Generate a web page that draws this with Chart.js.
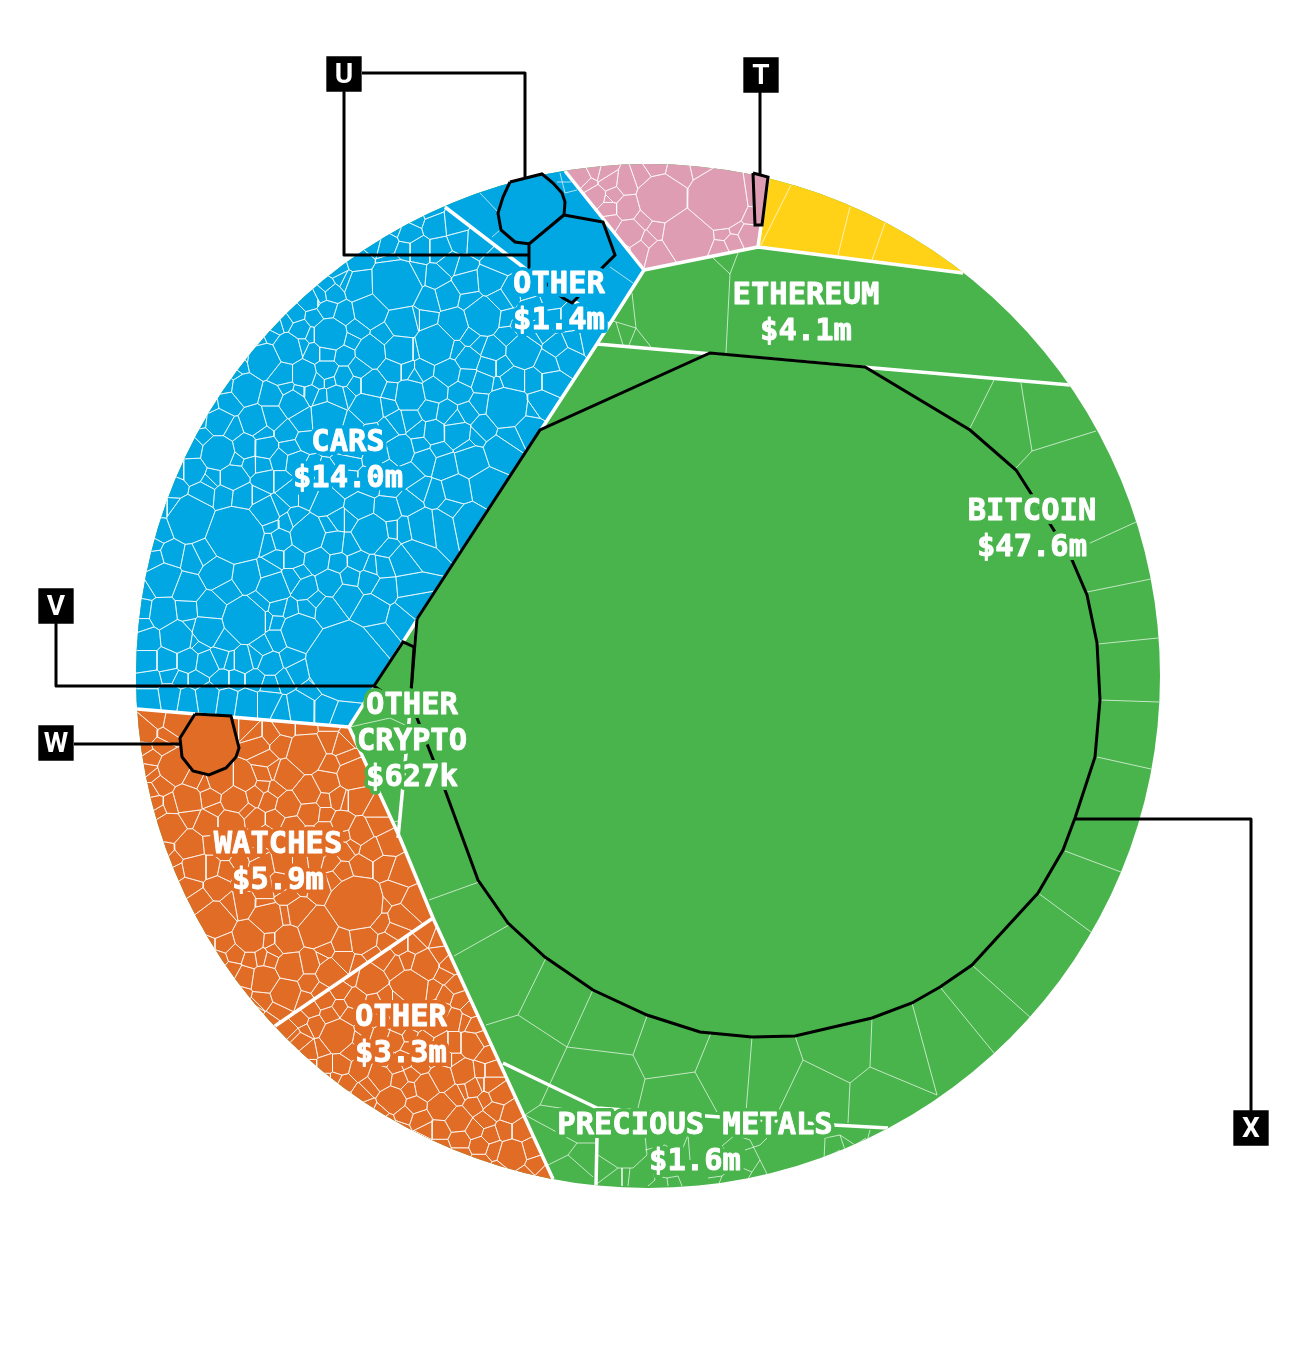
<!DOCTYPE html>
<html><head><meta charset="utf-8">
<style>html,body{margin:0;padding:0;background:#fff}canvas{display:block}</style>
<script src="https://cdn.jsdelivr.net/npm/chart.js@4"></script>
</head><body><canvas id="c" width="1296" height="1346"></canvas>
<script>
const BLUE='#00A7E3',GREEN='#48B44B',ORANGE='#E06C26',PINK='#DE9DB3',YELLOW='#FFD217';
const discCentre=[648,676],discRadius=512;
// category areas (x,y in the chart's own units)
const greenArea=[[0,0],[1296,0],[1296,1346],[0,1346]];
const blueArea=[[549,151],[644,270],[597,344],[417,620],[349,727],[100,706],[100,100],[400,100]];
const orangeArea=[[349,727],[400,838],[433,918],[553,1179],[560,1215],[100,1215],[100,706]];
const pinkArea=[[549,151],[644,270],[758,247],[771,155],[600,120]];
const yellowArea=[[771,155],[758,247],[1000,278],[1000,150]];
const carsArea=[[436,196],[445,207],[527,270],[610,325],[597,344],[417,620],[349,727],[100,706],[100,100],[400,100]];
const watchesArea=[[349,727],[400,838],[433,918],[230,1056],[100,900],[100,706]];
const otherOrangeArea=[[433,918],[553,1179],[560,1215],[300,1215],[230,1056]];
// holdings: [x,y,size]
const carsCells=[[396,284,24],[370,310,14],[403,323,14],[330,335,16],[371,353,13],[400,350,14],[288,348,13],[263,360,16],[282,375,10],[304,375,11],[327,352,9],[327,370,9],[343,355,8],[343,377,8],[360,368,8],[373,385,12],[392,370,10],[293,403,12],[337,397,10],[368,408,14],[328,418,16],[245,388,13],[273,395,9],[228,402,9],[255,422,11],[273,417,9],[218,422,12],[245,447,10],[218,453,16],[265,448,9],[287,432,7],[303,420,9],[310,393,6],[322,398,5],[318,380,5],[330,380,4],[192,448,10],[310,300,8],[327,310,7],[343,315,7],[360,285,13],[332,293,6],[347,280,6],[387,243,10],[405,250,8],[300,330,8],[315,318,6],[295,315,6],[275,325,8],[258,340,7],[240,365,8],[300,392,5],[285,388,6],[315,352,7],[350,340,5],[345,395,6],[355,385,6],[390,392,7],[415,375,6],[180,470,7],[203,437,7],[232,430,6],[235,460,6],[262,432,5],[280,460,7],[262,465,6],[295,462,8],[290,448,5],
[483,317,17],[523,352,15],[435,345,18],[455,325,13],[507,407,20],[410,395,14],[455,420,10],[513,380,12],[490,280,11],[467,282,10],[447,295,9],[428,300,8],[413,275,10],[437,277,8],[450,263,8],[463,267,7],[440,250,8],[418,250,10],[435,225,9],[455,223,8],[460,242,7],[477,243,9],[408,233,10],[393,262,5],[497,263,8],[512,292,8],[528,290,9],[533,307,10],[550,300,8],[553,320,9],[570,320,10],[543,330,9],[573,340,8],[588,337,7],[557,347,10],[547,363,10],[565,357,9],[493,350,10],[488,367,9],[468,360,10],[448,373,12],[467,377,9],[482,382,10],[423,370,8],[407,370,7],[390,373,5],[503,367,8],[533,380,9],[550,380,8],[540,403,9],[435,390,11],[460,392,10],[447,413,10],[467,413,9],[430,410,8],[480,403,8],[387,405,6],[397,423,8],[418,430,6],[435,432,10],[457,433,13],[483,427,9],[527,427,10],[500,300,7],[470,335,7],[425,320,6],[507,335,7],[510,435,7],[372,435,9],[352,425,8],[388,430,8],[410,420,8],[350,445,12],[378,455,10],[400,450,12],
[236,535,27],[190,518,20],[345,663,37],[245,620,21],[299,632,17],[273,588,14],[308,535,16],[371,533,17],[246,577,13],[218,573,14],[162,580,15],[188,590,12],[210,608,13],[227,590,10],[187,610,10],[163,613,13],[208,630,15],[225,640,10],[177,637,15],[147,640,11],[167,660,10],[147,660,10],[187,660,10],[207,663,10],[220,657,8],[243,660,9],[270,663,9],[290,657,6],[255,657,6],[298,673,8],[170,697,11],[150,700,10],[187,700,10],[207,697,11],[227,700,9],[247,703,10],[268,703,10],[300,707,12],[327,708,9],[340,713,7],[282,710,8],[193,470,11],[213,477,6],[233,477,12],[265,480,8],[243,497,10],[265,512,13],[173,487,10],[160,505,8],[203,493,8],[225,495,7],[257,497,6],[277,507,6],[290,493,8],[307,493,8],[327,502,11],[360,508,10],[387,510,9],[410,503,8],[423,527,15],[407,530,8],[287,523,5],[280,540,9],[270,543,7],[333,543,10],[350,545,7],[337,520,7],[277,557,5],[293,557,8],[318,560,11],[337,563,8],[357,562,7],[372,568,5],[383,567,7],[402,560,10],[415,550,8],[387,547,7],[305,588,10],[293,580,8],[330,582,11],[350,577,8],[368,580,8],[385,590,9],[407,588,6],[410,605,8],[347,595,10],[327,610,9],[373,610,12],[400,617,8],[378,635,6],[307,608,6],[278,607,7],[260,603,8],[277,640,8],[277,623,4],[263,647,7],[150,545,7],[152,560,9],[170,555,5],[205,555,7],[195,560,5],[268,572,6],[142,610,9],[142,625,7],[197,680,6],[222,680,6],[270,685,5],[235,680,5],[150,680,7],[170,675,5],[265,620,5],[320,680,6],[310,690,5],[390,485,6],[345,482,9],[325,475,8],[370,482,8],
[470,460,12],[500,450,10],[445,465,9],[425,460,9],[410,475,8],[485,485,9],[455,490,10],[435,495,8],[465,520,9],[440,525,12],[420,490,7],[450,508,6],[385,468,7],[347,460,6],
[146,590,6],[158,530,8],[172,505,6],[200,420,7],[210,405,7],[225,385,8],[235,372,6],[250,358,6],[270,335,6],[285,322,6],[312,300,6],[320,295,5],[327,287,4],[338,268,7],[357,262,7],[375,240,9],[395,228,8],[415,218,7],[430,212,5],[343,278,5],
[300,345,5],[312,335,4],[355,330,5],[385,335,5],[415,320,5],[470,300,5],[505,320,5],[518,325,5],[535,335,5],[500,385,5],[480,345,5],[455,350,5],[413,350,5],[530,410,5],[475,435,5],[440,450,5],[465,445,5],[420,445,5],[330,440,6],[305,440,5],[310,470,6],[280,480,5],[250,465,5],[210,480,5],[270,525,5],[295,520,5],[330,525,5],[350,520,5],[390,530,5],[300,575,5],[315,600,5],[290,610,5],[195,640,5],[190,625,5],[230,660,5],[200,645,5],[285,680,5],[255,680,5],[180,680,5]];
const watchesCells=[[357,903,26],[317,930,16],[215,920,15],[268,918,14],[250,938,13],[307,753,17],[287,775,11],[352,775,13],[288,805,10],[308,792,11],[327,782,10],[310,813,9],[342,823,9],[360,832,11],[372,850,9],[357,800,10],[338,798,8],[230,823,12],[208,823,10],[188,800,12],[235,800,12],[210,797,8],[220,780,12],[245,780,10],[263,773,7],[173,768,13],[147,733,8],[173,723,8],[150,758,7],[169,828,13],[190,847,13],[195,867,13],[210,867,8],[217,887,8],[243,903,9],[280,887,7],[297,913,9],[287,940,12],[290,967,13],[265,980,13],[285,993,14],[245,977,9],[263,1000,8],[310,983,8],[330,973,13],[310,963,10],[277,1010,7],[363,940,12],[343,943,8],[343,960,8],[387,943,7],[400,917,9],[413,903,7],[393,893,8],[400,873,8],[383,867,8],[362,867,9],[343,873,7],[315,858,7],[292,828,9],[330,742,8],
[158,720,5],[160,745,5],[148,770,6],[160,785,7],[145,750,5],[165,735,4],[155,805,7],[170,805,5],[195,780,5],[205,785,5],[258,745,8],[270,735,6],[245,725,7],[265,760,7],[285,725,7],[280,745,6],[305,725,6],[330,722,6],[340,745,8],[345,758,5],[330,765,7],[268,800,7],[255,795,8],[255,820,7],[275,820,6],[265,835,6],[250,840,6],[325,815,5],[325,830,7],[310,838,8],[345,850,6],[320,850,6],[330,862,5],[300,860,7],[300,880,8],[320,885,7],[335,880,5],[285,860,7],[260,865,8],[240,860,6],[225,850,7],[245,880,7],[265,890,7],[285,895,6],[380,905,6],[380,922,7],[395,930,6],[372,955,6],[360,965,6],[325,950,5],[320,990,7],[305,1000,6],[270,960,6],[262,958,5],[275,950,5],[235,955,7],[225,945,5],[220,960,6],[250,960,5],[240,995,7],[255,1010,6],[200,900,6],[190,885,7],[175,860,6],[350,735,5],[345,800,6],[375,825,6],[385,845,6],[152,790,5],[165,850,5],[235,725,5],[255,735,5],
[152,775,5],[158,810,6],[165,830,5],[180,870,6],[205,945,5],[232,970,7],[258,1005,5],[270,1020,5],[190,815,5],[215,810,5],[245,810,4],[262,787,5],[275,790,5],[272,770,5],[325,800,5],[345,835,5],[352,845,4],[375,810,5],[280,840,5],[255,855,5],[240,845,5],[210,845,5],[225,870,5],[232,905,5],[265,905,4],[285,915,5],[270,940,4],[320,960,5],[345,990,5]];
const otherOrangeCells=[[411,987,15],[338,1036,15],[472,1045,11],[442,1078,11],[426,1087,11],[393,1100,11],[442,1107,11],[458,1120,10],[463,1072,11],[512,1155,13],[425,965,12],[370,980,11],[380,1077,10],[473,1088,8],[493,1110,7],[497,1095,7],
[425,935,6],[438,940,4],[400,945,6],[385,958,6],[415,945,5],[440,955,6],[450,965,8],[350,975,6],[395,965,5],[445,975,6],[455,985,7],[445,995,6],[460,1000,6],[470,1010,6],[440,1010,7],[455,1018,6],[475,1025,6],[425,1015,6],[410,1010,5],[395,1015,6],[375,1005,7],[355,1000,7],[340,990,6],[325,1000,6],[350,1015,5],[310,1010,5],[300,1020,6],[315,1025,6],[300,1040,7],[310,1052,7],[290,1030,6],[325,1065,7],[340,1065,7],[345,1085,7],[365,1050,6],[365,1030,5],[380,1035,6],[395,1040,6],[410,1035,5],[425,1040,7],[440,1045,7],[455,1045,6],[405,1060,6],[420,1065,6],[395,1065,6],[360,1070,7],[350,1050,6],[400,1080,6],[410,1090,6],[360,1095,7],[415,1105,7],[420,1120,7],[405,1115,6],[440,1130,6],[460,1140,6],[475,1130,6],[485,1120,6],[480,1145,6],[495,1150,5],[490,1135,6],[505,1130,6],[520,1130,7],[530,1150,6],[535,1165,5],[510,1115,6],[485,1100,6],[490,1085,6],[475,1105,6],[455,1095,6],[480,1070,5],[485,1055,6],[490,1070,5],[480,1040,6],[425,1130,5],[380,1115,5],
[295,1035,5],[310,1065,5],[325,1080,5],[345,1097,5],[365,1108,5],[385,1122,5],[400,1130,5],[420,1140,5],[440,1148,5],[460,1155,5],[480,1163,5],[500,1170,4],[525,1175,4],[545,1175,4],
[385,1000,4],[400,1000,4],[435,990,4],[465,1020,4],[432,1030,5],[415,1025,4],[400,1028,4],[385,1020,5],[372,1020,4],[358,1040,4],[375,1050,5],[385,1060,4],[410,1048,4],[430,1058,4],[447,1060,5],[455,1060,4],[480,1085,4],[465,1090,4],[412,1075,5],[370,1085,5],[335,1080,4],[320,1050,4],[305,1030,4],[330,1015,5],[340,1008,4],[408,960,5]];
const pinkCells=[[663,198,24],[718,200,30],[688,235,25],[657,170,8],[678,175,12],[630,233,12],[627,208,10],[613,195,7],[597,195,8],[608,183,7],[595,173,5],[603,175,5],[610,198,5],[610,208,6],[658,230,7],[643,220,5],[648,240,5],[640,248,6],[660,253,10],[748,235,8],[733,242,6],[722,232,6],[735,228,4],[720,248,5],[585,178,5],[590,183,4],[625,185,6],[645,178,5],[612,222,5],[752,195,10],[750,215,6],[620,250,6],[700,170,6]];
// individually traced fine boundaries
const fineLines=[
[[994,380],[970,428]],[[1021,383],[1032,451],[1016,468]],[[1032,451],[1096,431]],[[1088,544],[1136,522]],[[1087,592],[1151,579]],[[1098,644],[1158,638]],[[1100,700],[1159,702]],[[1097,757],[1151,769]],[[1065,851],[1121,872]],[[1038,893],[1091,932]],[[972,965],[1031,1018]],[[940,987],[994,1053]],[[912,1003],[937,1095]],[[872,1018],[870,1067],[937,1095]],[[870,1067],[850,1083],[803,1060],[795,1036]],[[850,1083],[848,1123]],[[803,1060],[778,1112]],[[752,1037],[746,1112]],[[711,1033],[695,1072],[645,1079],[633,1055],[647,1016]],[[695,1072],[717,1112]],[[645,1079],[638,1108]],[[633,1055],[567,1047],[593,990]],[[567,1047],[518,1015],[546,958]],[[518,1015],[486,1025]],[[567,1047],[540,1105],[525,1115]],[[540,1105],[573,1110]],[[509,925],[454,956]],[[479,882],[429,900]],
[[525,1115],[577,1143],[597,1143]],[[577,1143],[568,1155],[548,1165]],[[568,1155],[593,1177]],[[598,1155],[618,1168],[598,1183]],[[618,1168],[633,1168],[647,1155],[645,1135]],[[622,1168],[622,1186]],[[630,1168],[628,1186]],
[[650,1155],[655,1180],[648,1186]],[[655,1176],[667,1178],[678,1176],[682,1186]],[[667,1178],[668,1186]],[[645,1150],[665,1145],[680,1155],[688,1135]],[[688,1135],[690,1160]],[[708,1178],[722,1176],[735,1165],[722,1146],[735,1135],[750,1140]],[[735,1165],[752,1172],[760,1160],[750,1140]],[[752,1172],[745,1184]],[[722,1176],[718,1186]],[[760,1160],[768,1176],[780,1178]],[[745,1150],[760,1145],[770,1135]],[[768,1176],[765,1182]],
[[825,1138],[824,1160]],[[825,1138],[840,1135],[855,1145],[866,1138]],[[840,1135],[845,1150]],[[855,1145],[852,1152]],[[870,1130],[866,1145]],[[840,1150],[825,1158]],
[[791,185],[761,245]],[[850,207],[838,255]],[[885,223],[872,260]],
[[712,257],[730,274],[738,253]],[[730,274],[726,353]],[[632,293],[636,328],[613,321]],[[636,328],[651,347]],[[636,328],[629,345]],[[616,322],[623,345]],
[[350,727],[390,718],[407,726]],[[393,822],[398,821]],
[[480,193],[498,212]],[[492,237],[500,230]],[[610,267],[633,283]],[[560,173],[565,193],[577,190]],[[557,182],[571,182]]];
// heavy outlines of the five called-out holdings
const cellT=[[753,173],[768,177],[762,225],[755,225],[753,173]];
const cellU1=[[510,182],[542,174],[553,183],[562,193],[565,202],[564,215],[530,244],[515,242],[501,230],[498,213],[503,197],[510,182]];
const cellU2=[[564,215],[603,222],[615,255],[600,270],[577,298],[572,303],[563,298],[548,285],[529,272],[529,244],[564,215]];
const cellV=[[374,686],[403,642],[414,647],[411,692],[390,697],[374,686]];
const cellW=[[195,714],[231,716],[239,748],[236,757],[226,768],[209,775],[193,771],[182,757],[180,738],[195,714]];
const cellX=[[417,619],[540,430],[710,353],[865,367],[970,430],[1016,470],[1032,495],[1055,532],[1072,560],[1087,595],[1097,643],[1100,700],[1095,757],[1075,818],[1063,850],[1038,893],[972,965],[940,987],[912,1003],[872,1018],[795,1036],[752,1037],[700,1032],[647,1015],[593,990],[545,957],[508,923],[478,880],[445,790],[417,718],[411,692],[417,619]];
const leaderLines=[[[760,93],[760,175]],[[362,73],[525,73],[525,180]],[[344,92],[344,255],[529,255]],[[56,624],[56,686],[375,686]],[[74,744],[180,744]],[[1075,819],[1251,819],[1251,1110]]];
const thickLines=[[[565,171],[644,270],[597,344],[417,620]],[[349,727],[137,709]],[[445,207],[527,270]],[[644,270],[758,247],[963,273]],[[758,247],[768,178]],[[597,344],[1070,385]],[[349,727],[400,838],[433,918],[553,1179]],[[433,918],[275,1026]],[[503,1063],[597,1108],[720,1117],[833,1125],[888,1128]],[[597,1137],[596,1186]],[[417,619],[412,690],[398,838]],[[417,620],[349,727]],[[527,270],[610,325]]];
const markerLetters=['T','U','V','W','X'];
const markerX=[761,344,56,56,1251];
const markerY=[75,74,606,743,1128];
const labels=[
 {lines:['OTHER','$1.4m'],x:559,y:284,c:BLUE},
 {lines:['ETHEREUM','$4.1m'],x:806,y:295,c:GREEN},
 {lines:['CARS','$14.0m'],x:348,y:442,c:BLUE},
 {lines:['BITCOIN','$47.6m'],x:1032,y:511,c:GREEN},
 {lines:['OTHER','CRYPTO','$627k'],x:412,y:705,c:GREEN},
 {lines:['WATCHES','$5.9m'],x:278,y:844,c:ORANGE},
 {lines:['OTHER','$3.3m'],x:401,y:1017,c:ORANGE},
 {lines:['PRECIOUS METALS','$1.6m'],x:695,y:1125,c:GREEN}];

function clipHalf(poly,a,b,c){ // keep a*x+b*y<=c
  const out=[];
  for(let i=0;i<poly.length;i++){
    const p=poly[i],q=poly[(i+1)%poly.length];
    const dp=a*p[0]+b*p[1]-c,dq=a*q[0]+b*q[1]-c;
    if(dp<=0)out.push(p);
    if((dp<0&&dq>0)||(dp>0&&dq<0)){const t=dp/(dp-dq);out.push([p[0]+t*(q[0]-p[0]),p[1]+t*(q[1]-p[1])]);}
  }
  return out;
}
function powerCells(area,cells){
  const res=[];
  cells.forEach((s,i)=>{
    let poly=area;
    for(let j=0;j<cells.length&&poly.length;j++){
      if(j===i)continue;const o=cells[j];
      const a=2*(o[0]-s[0]),b=2*(o[1]-s[1]);
      const c=o[0]*o[0]+o[1]*o[1]-o[2]*o[2]-s[0]*s[0]-s[1]*s[1]+s[2]*s[2];
      poly=clipHalf(poly,a,b,c);
    }
    if(poly.length>2)res.push(poly.concat([poly[0]]));
  });
  return res;
}
const toPts=pl=>pl.map(p=>({x:p[0],y:p[1]}));
const gapped=list=>{const o=[];list.forEach(pl=>{o.push(...toPts(pl),{x:NaN,y:NaN});});return o;};
const closed=a=>a.concat([a[0]]);
const shape=(a,fillC,stroke,w)=>({data:toPts(a),showLine:true,fill:'shape',backgroundColor:fillC,borderColor:stroke||'transparent',borderWidth:w||0,pointRadius:0,clip:false,borderJoinStyle:'miter'});
const lines=(list,c,w,extra)=>Object.assign({data:gapped(list),showLine:true,fill:false,borderColor:c,borderWidth:w,pointRadius:0,clip:false,borderJoinStyle:'round'},extra||{});

const thin=[...powerCells(carsArea,carsCells),...powerCells(watchesArea,watchesCells),...powerCells(otherOrangeArea,otherOrangeCells),...powerCells(pinkArea,pinkCells),...fineLines];
const painter=[
 shape(closed(greenArea),GREEN),
 shape(closed(blueArea),BLUE),
 shape(closed(orangeArea),ORANGE),
 shape(closed(pinkArea),PINK),
 shape(closed(yellowArea),YELLOW),
 lines(thin,'rgba(255,255,255,0.85)',0.8),
 lines(thickLines,'#fff',3.5,{lastInDisc:true}),
 lines(leaderLines,'#000',3),
 shape(cellX,GREEN,'#000',3),
 shape(cellV,GREEN,'#000',3),
 shape(cellT,PINK,'#000',3),
 shape(cellU1,BLUE,'#000',3),
 shape(cellU2,BLUE,'#000',3),
 shape(cellW,ORANGE,'#000',3),
 {data:markerX.map((x,i)=>({x,y:markerY[i]})),showLine:false,pointStyle:'rect',pointRadius:25,pointBackgroundColor:'#000',pointBorderWidth:0,clip:false}
];
// Chart.js paints the first dataset last
const datasets=painter.slice().reverse();
const discClip={id:'discClip',
 beforeDatasetsDraw(ch){const {ctx,scales:{x,y}}=ch;ctx.save();ctx.beginPath();
  ctx.arc(x.getPixelForValue(discCentre[0]),y.getPixelForValue(discCentre[1]),discRadius,0,Math.PI*2);ctx.clip();},
 afterDatasetDraw(ch,args){if(ch.data.datasets[args.index].lastInDisc)ch.ctx.restore();}};
const textLayer={id:'textLayer',
 afterDatasetsDraw(ch){const {ctx,scales:{x,y}}=ch;ctx.save();ctx.textAlign='center';ctx.textBaseline='middle';ctx.lineJoin='round';
  ctx.font='bold 30.5px "DejaVu Sans Mono"';
  labels.forEach(l=>l.lines.forEach((t,i)=>{const px=x.getPixelForValue(l.x),py=y.getPixelForValue(l.y+i*36)+1.5;
    ctx.strokeStyle=l.c;ctx.lineWidth=8;ctx.strokeText(t,px,py);
    ctx.strokeStyle='#fff';ctx.lineWidth=0.9;ctx.strokeText(t,px,py);
    ctx.fillStyle='#fff';ctx.fillText(t,px,py);}));
  ctx.font='bold 28px Roboto';ctx.fillStyle='#fff';
  markerLetters.forEach((t,i)=>ctx.fillText(t,x.getPixelForValue(markerX[i]),y.getPixelForValue(markerY[i])+1.5));
  ctx.restore();}};
new Chart(document.getElementById('c'),{type:'scatter',data:{datasets},plugins:[discClip,textLayer],
 options:{responsive:false,animation:false,devicePixelRatio:1,layout:{padding:0,autoPadding:false},
  scales:{x:{type:'linear',min:0,max:1296,display:false},y:{type:'linear',min:0,max:1346,reverse:true,display:false}},
  plugins:{legend:{display:false},tooltip:{enabled:false}},events:[]}});
</script></body></html>
